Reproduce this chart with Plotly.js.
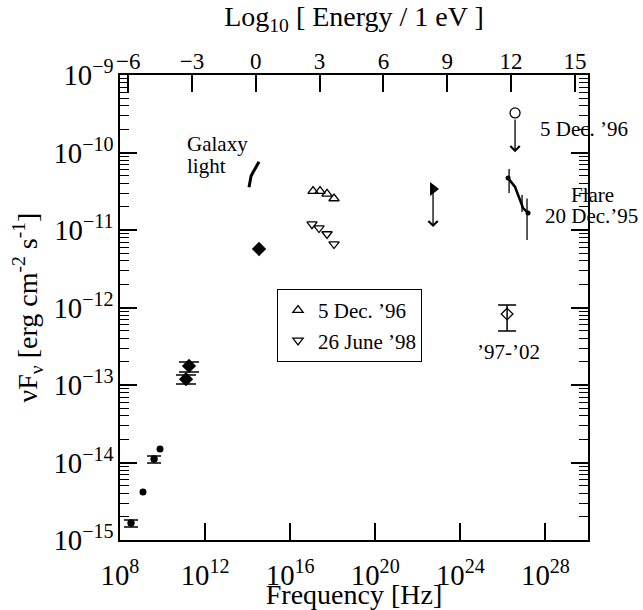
<!DOCTYPE html>
<html><head><meta charset="utf-8">
<script src="https://cdn.plot.ly/plotly-3.0.1.min.js"></script>
<style>body{margin:0;padding:0;background:#fff}</style>
</head><body><div id="chart" style="width:643px;height:610px"></div>
<script>
// ---- data (frequency in Hz, nuFnu in erg cm^-2 s^-1) ----
var radioNu = [3.3e8, 1.2e9, 4.0e9, 7.6e9];
var radioF  = [1.66e-15, 4.16e-15, 1.11e-14, 1.49e-14];
var radioErrNu = [3.3e8, 4.0e9];
var radioErrF  = [1.66e-15, 1.11e-14];
var radioErrLo = [1.47e-15, 9.86e-15];
var radioErrHi = [1.81e-15, 1.21e-14];

var mmNu = [1.75e11, 1.27e11];
var mmF  = [1.76e-13, 1.19e-13];
var mmLo = [1.47e-13, 1.03e-13];
var mmHi = [1.98e-13, 1.35e-13];

var optNu = [3.43e14];
var optF  = [5.69e-12];

var galNu = [1.16e14, 1.45e14, 1.86e14, 3.43e14];
var galF  = [3.56e-11, 4.98e-11, 5.65e-11, 7.60e-11];

var dec96Nu = [1.19e17, 2.53e17, 5.40e17, 1.15e18];
var dec96F  = [3.18e-11, 3.18e-11, 2.92e-11, 2.55e-11];

var jun98Nu = [1.06e17, 2.27e17, 5.40e17, 1.15e18];
var jun98F  = [1.19e-11, 1.06e-11, 8.88e-12, 6.59e-12];

var gevNu  = [5.20e22];
var gevF   = [3.38e-11];
var gevTip = [1.09e-11];

var tevUlNu  = [3.72e26];
var tevUlF   = [3.24e-10];
var tevUlTip = [1.01e-10];

var avgNu = [1.57e26];
var avgF  = [8.24e-13];
var avgLo = [4.98e-13];
var avgHi = [1.08e-12];

var flareNu = [1.75e26, 3.72e26, 8.85e26, 1.52e27];
var flareF  = [4.69e-11, 3.59e-11, 1.92e-11, 1.66e-11];
var flareErrNu = [1.95e26, 7.94e26, 1.36e27];
var flareErrLo = [3.00e-11, 1.71e-11, 7.43e-12];
var flareErrHi = [6.12e-11, 2.83e-11, 2.55e-11];

// ---- build ----
var FONT = 'Liberation Serif';
var LOG_HZ_PER_EV = 14.3836;
var XR = [8, 30], YR = [-15, -9];
var ML = 120, MT = 75, PW = 468, PH = 465;
function px2px(p) { return (p - ML) / PW; }
function py2py(p) { return (MT + PH - p) / PH; }

function errs(v, lo, hi, w) {
  var a = [], am = [];
  for (var i = 0; i < v.length; i++) { a.push(hi[i] - v[i]); am.push(v[i] - lo[i]); }
  return {type: 'data', symmetric: false, color: 'black', thickness: 1.5, width: w, array: a, arrayminus: am};
}

var traces = [];
traces.push({x: dec96Nu, y: dec96F, mode: 'markers', name: '5 Dec. ’96',
  marker: {symbol: 'triangle-up-open', size: 9, color: 'black', line: {width: 1.3, color: 'black'}}});
traces.push({x: jun98Nu, y: jun98F, mode: 'markers', name: '26 June ’98',
  marker: {symbol: 'triangle-down-open', size: 9, color: 'black', line: {width: 1.3, color: 'black'}}});
traces.push({x: radioNu, y: radioF, mode: 'markers', showlegend: false,
  marker: {symbol: 'circle', size: 7, color: 'black'}});
traces.push({x: radioErrNu, y: radioErrF, mode: 'markers', showlegend: false,
  marker: {symbol: 'circle', size: 7, color: 'black'},
  error_y: errs(radioErrF, radioErrLo, radioErrHi, 7)});
traces.push({x: mmNu, y: mmF, mode: 'markers', showlegend: false,
  marker: {symbol: 'diamond', size: 11, color: 'black'},
  error_y: errs(mmF, mmLo, mmHi, 10)});
traces.push({x: optNu, y: optF, mode: 'markers', showlegend: false,
  marker: {symbol: 'diamond', size: 11, color: 'black'}});
traces.push({x: galNu, y: galF, mode: 'lines', showlegend: false,
  line: {color: 'black', width: 3}});
traces.push({x: gevNu, y: gevF, mode: 'markers', showlegend: false,
  marker: {symbol: 'triangle-right', size: 12, color: 'black'}});
traces.push({x: tevUlNu, y: tevUlF, mode: 'markers', showlegend: false,
  marker: {symbol: 'circle-open', size: 10, color: 'black', line: {width: 1.3, color: 'black'}}});
traces.push({x: avgNu, y: avgF, mode: 'markers', showlegend: false,
  marker: {symbol: 'diamond-open', size: 9, color: 'black', line: {width: 1.3, color: 'black'}},
  error_y: errs(avgF, avgLo, avgHi, 9)});
traces.push({x: flareNu, y: flareF, mode: 'lines', showlegend: false,
  line: {color: 'black', width: 2.5}});
traces.push({x: [flareNu[0], flareNu[flareNu.length - 1]], y: [flareF[0], flareF[flareF.length - 1]],
  mode: 'markers', showlegend: false, marker: {symbol: 'circle', size: 5, color: 'black'}});
for (var k = 0; k < flareErrNu.length; k++) {
  traces.push({x: [flareErrNu[k], flareErrNu[k]], y: [flareErrLo[k], flareErrHi[k]], mode: 'lines',
    showlegend: false, line: {color: 'black', width: 1.3}});
}
// anchor for the top energy axis (outside the visible range)
traces.push({x: [0], y: [1e-20], xaxis: 'x2', mode: 'markers', showlegend: false, marker: {color: 'black'}});

var annotations = [];
function ulArrow(nu, f, tip, sstand) {
  annotations.push({x: Math.log10(nu), y: Math.log10(tip), ax: Math.log10(nu), ay: Math.log10(f),
    xref: 'x', yref: 'y', axref: 'x', ayref: 'y', text: '', showarrow: true,
    arrowhead: 4, arrowsize: 1.4, arrowwidth: 1.3, arrowcolor: 'black', startstandoff: sstand});
}
ulArrow(gevNu[0], gevF[0], gevTip[0], 0);
ulArrow(tevUlNu[0], tevUlF[0], tevUlTip[0], 5);

function label(text, px, py, xanchor) {
  annotations.push({text: text, x: px2px(px), y: py2py(py), xref: 'paper', yref: 'paper', showarrow: false,
    xanchor: xanchor, yanchor: 'middle', font: {family: FONT, size: 21, color: 'black'}});
}
label('Galaxy', 185, 144, 'left');
label('light', 185, 166, 'left');
label('5 Dec. ’96', 538, 129, 'left');
label('Flare', 592, 195, 'center');
label('20 Dec.’95', 591, 216, 'center');
label('’97-’02', 508, 352, 'center');

var layout = {
  width: 643, height: 610,
  margin: {l: ML, r: 643 - ML - PW, t: MT, b: 610 - MT - PH},
  font: {family: FONT, color: 'black', size: 23},
  showlegend: true,
  legend: {x: px2px(277), y: py2py(289), xanchor: 'left', yanchor: 'top',
    bordercolor: 'black', borderwidth: 1, font: {family: FONT, size: 21, color: 'black'}},
  xaxis: {type: 'log', range: XR, dtick: 4, tick0: 0, exponentformat: 'power',
    ticks: 'inside', ticklen: 17, tickwidth: 1.5, tickcolor: 'black',
    showline: true, linewidth: 1.5, linecolor: 'black', mirror: true, showgrid: false, zeroline: false,
    ticklabelstandoff: 10,
    title: {text: 'Frequency [Hz]', standoff: 2}},
  xaxis2: {overlaying: 'x', side: 'top', anchor: 'y', range: [XR[0] - LOG_HZ_PER_EV, XR[1] - LOG_HZ_PER_EV],
    dtick: 3, tick0: 0, ticks: 'inside', ticklen: 17, tickwidth: 1.5, tickcolor: 'black',
    showgrid: false, zeroline: false,
    title: {text: 'Log<sub>10</sub> [ Energy / 1 eV ]', standoff: 14}},
  yaxis: {type: 'log', range: YR, dtick: 1, exponentformat: 'power',
    ticks: 'inside', ticklen: 17, tickwidth: 1.5, tickcolor: 'black',
    showline: true, linewidth: 1.5, linecolor: 'black', mirror: 'ticks', showgrid: false, zeroline: false,
    minor: {ticks: 'inside', ticklen: 9, tickwidth: 1.2, tickcolor: 'black'},
    title: {text: 'νF<sub>ν</sub> [erg cm<sup>-2</sup> s<sup>-1</sup>]', standoff: 8}},
  annotations: annotations
};

Plotly.newPlot('chart', traces, layout, {displayModeBar: false});
</script></body></html>
